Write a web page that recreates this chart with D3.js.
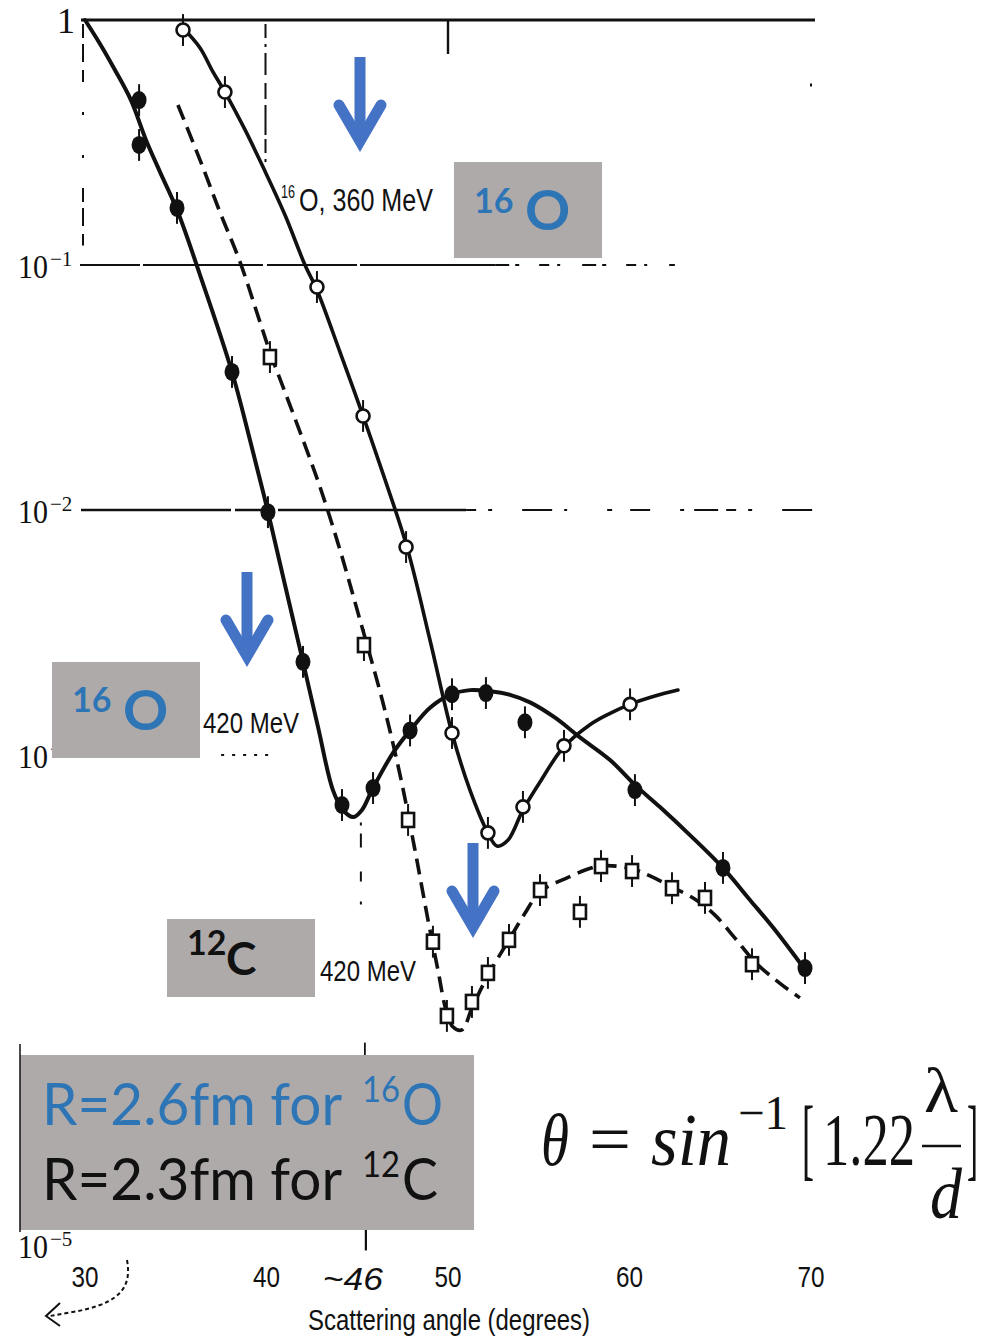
<!DOCTYPE html>
<html>
<head>
<meta charset="utf-8">
<script src="https://cdn.jsdelivr.net/npm/d3@7"></script>
<style>
  html, body { margin: 0; padding: 0; background: #fff; }
  svg { display: block; }
</style>
</head>
<body>
<svg id="chart" width="982" height="1337"></svg>
<script>
// ---- axis ticks ----
const angleTicks = [30, 40, 50, 60, 70];
const markAngle = 45.2;
const markLabel = "~46";
const decadeValues = [1, 1e-1, 1e-2, 1e-3, 1e-5];
const decadeExponents = ["", "−1", "−2", "−3", "−5"];

// ---- 16O, 420 MeV (filled circles, solid curve) ----
const o16_420_angle = [32.98, 32.98, 35.07, 38.10, 40.08, 42.01, 44.16, 45.87, 47.91, 50.22, 52.09, 54.24, 60.30, 65.15, 69.67];
const o16_420_value = [0.471, 0.309, 0.171, 0.0366, 0.0098, 0.0024, 6.25e-4, 7.33e-4, 1.26e-3, 1.77e-3, 1.79e-3, 1.36e-3, 7.19e-4, 3.46e-4, 1.35e-4];
const o16_420_fitAngle = [30.00, 30.83, 31.65, 32.53, 33.36, 34.13, 35.07, 36.34, 38.10, 39.09, 40.08, 41.02, 42.01, 42.84, 43.66, 44.21, 44.77, 45.26, 45.81, 46.97, 48.02, 49.01, 50.11, 51.21, 52.31, 53.42, 54.52, 55.90, 57.27, 58.93, 60.30, 61.68, 63.33, 65.15, 66.64, 68.02, 69.67];
const o16_420_fitValue = [1.0, 0.798, 0.625, 0.471, 0.324, 0.240, 0.168, 0.0910, 0.0366, 0.0193, 0.00982, 0.00494, 0.00240, 0.00130, 7.19e-4, 5.97e-4, 5.58e-4, 5.97e-4, 7.19e-4, 1.02e-3, 1.29e-3, 1.56e-3, 1.76e-3, 1.84e-3, 1.82e-3, 1.76e-3, 1.64e-3, 1.42e-3, 1.18e-3, 9.54e-4, 7.55e-4, 6.13e-4, 4.71e-4, 3.46e-4, 2.56e-4, 1.93e-4, 1.33e-4];

// ---- 16O, 360 MeV (open circles, solid curve) ----
const o16_360_angle = [35.40, 37.71, 42.78, 45.32, 47.69, 50.22, 52.20, 54.13, 56.39, 60.03];
const o16_360_value = [0.910, 0.508, 0.0813, 0.0242, 0.00706, 0.00123, 4.81e-4, 6.14e-4, 1.09e-3, 1.61e-3];
const o16_360_fitAngle = [35.40, 36.34, 37.05, 37.71, 38.82, 39.81, 41.02, 42.12, 42.78, 44.05, 45.32, 46.53, 47.74, 49.01, 50.22, 51.21, 52.20, 52.70, 53.31, 54.13, 55.07, 56.34, 57.82, 58.93, 60.03, 61.40, 62.67];
const o16_360_fitValue = [0.927, 0.769, 0.614, 0.508, 0.356, 0.251, 0.160, 0.100, 0.0791, 0.0441, 0.0242, 0.0133, 0.00706, 0.00294, 0.00123, 7.19e-4, 4.81e-4, 4.25e-4, 4.50e-4, 5.97e-4, 7.76e-4, 1.07e-3, 1.33e-3, 1.48e-3, 1.61e-3, 1.74e-3, 1.84e-3];

// ---- 12C, 420 MeV (open squares, dashed curve) ----
const c12_420_angle = [40.19, 45.37, 47.80, 49.17, 49.94, 51.32, 52.20, 53.36, 55.07, 57.27, 58.43, 60.14, 62.34, 64.16, 66.75];
const c12_420_value = [0.0421, 0.00281, 5.43e-4, 1.73e-4, 8.61e-5, 9.82e-5, 1.29e-4, 1.76e-4, 2.81e-4, 2.29e-4, 3.52e-4, 3.36e-4, 2.86e-4, 2.61e-4, 1.40e-4];
const c12_420_fitAngle = [35.12, 36.34, 37.44, 38.54, 39.64, 40.19, 40.91, 41.85, 42.95, 44.05, 45.15, 46.42, 47.36, 48.18, 48.90, 49.45, 49.89, 50.28, 50.77, 51.32, 52.20, 53.36, 54.24, 55.07, 56.56, 58.37, 60.14, 61.13, 62.34, 63.61, 64.71, 65.81, 66.91, 68.29, 69.39];
const c12_420_fitValue = [0.450, 0.268, 0.164, 0.103, 0.0585, 0.0441, 0.0318, 0.0208, 0.0124, 0.00687, 0.00356, 0.00163, 8.28e-4, 4.09e-4, 2.12e-4, 1.32e-4, 9.10e-5, 7.76e-5, 7.55e-5, 9.27e-5, 1.26e-4, 1.76e-4, 2.26e-4, 2.76e-4, 3.15e-4, 3.52e-4, 3.43e-4, 3.21e-4, 2.89e-4, 2.58e-4, 2.22e-4, 1.79e-4, 1.43e-4, 1.17e-4, 1.02e-4];

// ---- scales ----
const svg = d3.select("#chart");
const x = d3.scaleLinear().domain([30, 70]).range([85, 811]);
const y = d3.scaleLog().domain([1e-5, 1]).range([1245, 20]);

const ink = "#111";
const scanFont = "'Liberation Sans Narrow', 'Liberation Sans', Arial, sans-serif";
const serif = "'Liberation Serif', 'DejaVu Serif', serif";
const office = "Lato, 'Open Sans', 'Noto Sans', sans-serif";

const zip = (a, b) => a.map((v, i) => [v, b[i]]);

// ---- frame / reference lines of the original plot ----
const frame = svg.append("g").attr("stroke", ink).attr("fill", "none");
// top line at unity
frame.append("line").attr("x1", x(30) - 4).attr("x2", x(70) + 4)
  .attr("y1", y(1)).attr("y2", y(1)).attr("stroke-width", 3.2);
// 10^-1 line
frame.append("line").attr("x1", x(30) - 5).attr("x2", x(52.6))
  .attr("y1", y(1e-1)).attr("y2", y(1e-1)).attr("stroke-width", 2.2)
  .attr("stroke-dasharray", "60 3 120 4 90 3 200 5");
frame.append("line").attr("x1", x(52.6)).attr("x2", x(62.5))
  .attr("y1", y(1e-1)).attr("y2", y(1e-1)).attr("stroke-width", 2)
  .attr("stroke-dasharray", "14 6 4 20 10 8 3 22");
// 10^-2 line
frame.append("line").attr("x1", x(30) - 4).attr("x2", x(51))
  .attr("y1", y(1e-2)).attr("y2", y(1e-2)).attr("stroke-width", 2.4)
  .attr("stroke-dasharray", "150 4 40 3 200 6");
frame.append("line").attr("x1", x(51)).attr("x2", x(70) + 4)
  .attr("y1", y(1e-2)).attr("y2", y(1e-2)).attr("stroke-width", 2)
  .attr("stroke-dasharray", "10 12 4 30 30 12 3 40 5 18 20 30 4 10 24 8");
// 10^-3 remnants
frame.append("line").attr("x1", x(37.5)).attr("x2", x(40.1))
  .attr("y1", y(1e-3)).attr("y2", y(1e-3)).attr("stroke-width", 2)
  .attr("stroke-dasharray", "3 8");
// vertical dashed guides
frame.append("line").attr("x1", x(30) - 2).attr("x2", x(30) - 2)
  .attr("y1", y(1) + 4).attr("y2", y(0.12)).attr("stroke-width", 2)
  .attr("stroke-dasharray", "14 6 18 8 12 30 3 40 3 30");
frame.append("line").attr("x1", x(40) - 1).attr("x2", x(40) - 1)
  .attr("y1", y(1) + 4).attr("y2", y(0.26)).attr("stroke-width", 2)
  .attr("stroke-dasharray", "14 6 3 6 22 8 16 6 30 4");
frame.append("line").attr("x1", x(50)).attr("x2", x(50))
  .attr("y1", y(1)).attr("y2", y(0.7)).attr("stroke-width", 2.4)
  .attr("stroke-dasharray", "34 10 3 36 3 100");
frame.append("line").attr("x1", x(70)).attr("x2", x(70))
  .attr("y1", y(0.55)).attr("y2", y(0.35)).attr("stroke-width", 2)
  .attr("stroke-dasharray", "3 48 3 100");
// minimum marker near 46 degrees
frame.append("line").attr("x1", x(markAngle)).attr("x2", x(markAngle))
  .attr("y1", y(5.3e-4)).attr("y2", y(2.4e-4)).attr("stroke-width", 2)
  .attr("stroke-dasharray", "3 8 14 24 10 20");
frame.append("line").attr("x1", x(markAngle) + 4).attr("x2", x(markAngle) + 4)
  .attr("y1", y(6.7e-5)).attr("y2", y(5.1e-5)).attr("stroke-width", 1.8);
frame.append("line").attr("x1", x(markAngle) + 5).attr("x2", x(markAngle) + 5)
  .attr("y1", y(1.2e-5)).attr("y2", y(0.95e-5)).attr("stroke-width", 2.2);

// ---- curves ----
const line = d3.line()
  .x(d => x(d[0])).y(d => y(d[1]))
  .curve(d3.curveCatmullRom.alpha(0.5));

svg.append("path").datum(zip(o16_420_fitAngle, o16_420_fitValue))
  .attr("d", line).attr("fill", "none").attr("stroke", ink)
  .attr("stroke-width", 4).attr("stroke-linecap", "round");
svg.append("path").datum(zip(o16_360_fitAngle, o16_360_fitValue))
  .attr("d", line).attr("fill", "none").attr("stroke", ink)
  .attr("stroke-width", 3.6).attr("stroke-linecap", "round");
svg.append("path").datum(zip(c12_420_fitAngle, c12_420_fitValue))
  .attr("d", line).attr("fill", "none").attr("stroke", ink)
  .attr("stroke-width", 3.6).attr("stroke-dasharray", "16 8");

// ---- error bars ----
const errSpan = 0.065; // decades above and below each point
function errorBars(angles, values) {
  svg.append("g").attr("stroke", ink).attr("stroke-width", 2)
    .selectAll("line").data(zip(angles, values)).join("line")
    .attr("x1", d => x(d[0])).attr("x2", d => x(d[0]))
    .attr("y1", d => y(d[1] * Math.pow(10, errSpan)))
    .attr("y2", d => y(d[1] / Math.pow(10, errSpan)));
}
errorBars(o16_420_angle, o16_420_value);
errorBars(o16_360_angle, o16_360_value);
errorBars(c12_420_angle, c12_420_value);

// ---- markers ----
svg.append("g").selectAll("ellipse").data(zip(o16_420_angle, o16_420_value)).join("ellipse")
  .attr("cx", d => x(d[0])).attr("cy", d => y(d[1]))
  .attr("rx", 7.5).attr("ry", 9).attr("fill", ink);

svg.append("g").selectAll("circle").data(zip(o16_360_angle, o16_360_value)).join("circle")
  .attr("cx", d => x(d[0])).attr("cy", d => y(d[1]))
  .attr("r", 6.5).attr("fill", "#fff").attr("stroke", ink).attr("stroke-width", 2.6);

svg.append("g").selectAll("rect").data(zip(c12_420_angle, c12_420_value)).join("rect")
  .attr("x", d => x(d[0]) - 6).attr("y", d => y(d[1]) - 7)
  .attr("width", 12).attr("height", 14)
  .attr("fill", "#fff").attr("stroke", ink).attr("stroke-width", 2.6);

// ---- series labels from the original plot ----
const lab = svg.append("g").attr("fill", ink).attr("font-family", scanFont);
lab.append("text").attr("x", 281).attr("y", 198).attr("font-size", 18)
  .attr("textLength", 14).attr("lengthAdjust", "spacingAndGlyphs").text("16");
lab.append("text").attr("x", 299).attr("y", 211).attr("font-size", 31)
  .attr("textLength", 134).attr("lengthAdjust", "spacingAndGlyphs").text("O, 360 MeV");
lab.append("text").attr("x", 203).attr("y", 733).attr("font-size", 30)
  .attr("textLength", 96).attr("lengthAdjust", "spacingAndGlyphs").text("420 MeV");
lab.append("text").attr("x", 320).attr("y", 981).attr("font-size", 30)
  .attr("textLength", 96).attr("lengthAdjust", "spacingAndGlyphs").text("420 MeV");

// ---- y-axis decade labels ----
const ylab = svg.append("g").attr("fill", ink).attr("font-family", serif);
decadeValues.forEach((v, i) => {
  if (decadeExponents[i] === "") {
    ylab.append("text").attr("x", 75).attr("y", y(v) + 13)
      .attr("text-anchor", "end").attr("font-size", 36).text("1");
  } else {
    ylab.append("text").attr("x", 18).attr("y", y(v) + 13).attr("font-size", 34)
      .attr("textLength", 30).attr("lengthAdjust", "spacingAndGlyphs").text("10");
    ylab.append("text").attr("x", 50).attr("y", y(v) + 1).attr("font-size", 21)
      .text(decadeExponents[i]);
  }
});

// ---- x-axis tick labels and title ----
const xlab = svg.append("g").attr("fill", ink).attr("font-family", scanFont)
  .attr("text-anchor", "middle");
angleTicks.forEach(a => {
  xlab.append("text").attr("x", x(a)).attr("y", 1287).attr("font-size", 30)
    .attr("textLength", 27).attr("lengthAdjust", "spacingAndGlyphs").text(a);
});
xlab.append("text").attr("x", x(markAngle) - 8).attr("y", 1290).attr("font-size", 32)
  .attr("font-style", "italic").attr("textLength", 60).attr("lengthAdjust", "spacingAndGlyphs")
  .text(markLabel);
xlab.append("text").attr("x", 449).attr("y", 1330).attr("font-size", 29)
  .attr("textLength", 282).attr("lengthAdjust", "spacingAndGlyphs")
  .text("Scattering angle  (degrees)");

// hand-drawn pointer below the 30 degree label
const hand = svg.append("g").attr("fill", "none").attr("stroke", ink).attr("stroke-width", 2);
hand.append("path").attr("d", "M127,1260 C131,1282 124,1296 100,1305 C84,1311 66,1313 50,1316")
  .attr("stroke-dasharray", "4 3");
hand.append("path").attr("d", "M60,1303 L46,1316 L60,1326");

// ---- overlay annotations ----
const grey = "#AEAAAA";
const blue = "#2E75B6";
const arrowBlue = "#4472C4";
const over = svg.append("g");

function downArrow(cx, top, tip) {
  over.append("rect").attr("x", cx - 5.5).attr("y", top).attr("width", 11).attr("height", tip - top - 8)
    .attr("fill", arrowBlue);
  over.append("path")
    .attr("d", `M${cx - 21},${tip - 42} L${cx},${tip - 6} L${cx + 21},${tip - 42}`)
    .attr("fill", "none").attr("stroke", arrowBlue).attr("stroke-width", 11)
    .attr("stroke-linecap", "round").attr("stroke-linejoin", "miter");
}
downArrow(360, 57, 147);
downArrow(247, 572, 662);
downArrow(473, 843, 933);

function isotopeBox(bx, by, w, h, mass, sym, color, massPos, symPos, symSize) {
  over.append("rect").attr("x", bx).attr("y", by).attr("width", w).attr("height", h).attr("fill", grey);
  over.append("text").attr("x", massPos[0]).attr("y", massPos[1]).attr("font-family", office)
    .attr("font-weight", 700).attr("font-size", 34).attr("fill", color).text(mass);
  over.append("text").attr("x", symPos[0]).attr("y", symPos[1]).attr("font-family", office)
    .attr("font-weight", 700).attr("font-size", symSize).attr("fill", color).text(sym);
}
isotopeBox(454, 162, 148, 96, "16", "O", blue, [474, 213], [525, 230], 56);
isotopeBox(52, 662, 148, 96, "16", "O", blue, [72, 712], [123, 730], 56);
isotopeBox(167, 919, 148, 78, "12", "C", ink, [187, 955], [226, 975], 46);

// radius summary box
over.append("rect").attr("x", 20).attr("y", 1055).attr("width", 454).attr("height", 175).attr("fill", grey);
over.append("line").attr("x1", 20).attr("x2", 20).attr("y1", 1044).attr("y2", 1232)
  .attr("stroke", ink).attr("stroke-width", 1.5);
function radiusLine(yBase, color, lead, mass, sym, widths) {
  over.append("text").attr("x", 42).attr("y", yBase).attr("font-family", office)
    .attr("font-size", 58).attr("fill", color)
    .attr("textLength", widths[0]).attr("lengthAdjust", "spacingAndGlyphs").text(lead);
  over.append("text").attr("x", 362).attr("y", yBase - 23).attr("font-family", office)
    .attr("font-size", 36).attr("fill", color)
    .attr("textLength", 38).attr("lengthAdjust", "spacingAndGlyphs").text(mass);
  over.append("text").attr("x", 402).attr("y", yBase).attr("font-family", office)
    .attr("font-size", 58).attr("fill", color)
    .attr("textLength", widths[1]).attr("lengthAdjust", "spacingAndGlyphs").text(sym);
}
radiusLine(1125, blue, "R=2.6fm for", "16", "O", [300, 41]);
radiusLine(1200, ink, "R=2.3fm for", "12", "C", [300, 36]);

// diffraction-minimum formula: each glyph group is squeezed horizontally to its slot
const eq = svg.append("g").attr("fill", ink).attr("font-family", serif);
function eqText(str, left, base, size, width, italic) {
  const t = eq.append("text").attr("x", 0).attr("y", 0).attr("font-size", size)
    .attr("font-style", italic ? "italic" : "normal").text(str);
  const natural = t.node().getComputedTextLength() || width;
  t.attr("transform", `translate(${left},${base}) scale(${width / natural},1)`);
}
eqText("θ", 541, 1165, 74, 28, true);
eqText("=", 589, 1163, 70, 42, false);
eqText("sin", 651, 1165, 74, 80, true);
eqText("−1", 738, 1129, 48, 50, false);
eqText("[", 802, 1169, 90, 12, false);
eqText("1.22", 823, 1165, 74, 92, false);
eqText("λ", 924, 1112, 64, 34, false);
eq.append("line").attr("x1", 922).attr("x2", 961).attr("y1", 1146).attr("y2", 1146)
  .attr("stroke", ink).attr("stroke-width", 2.4);
eqText("d", 930, 1218, 72, 32, true);
eqText("]", 967, 1169, 90, 11, false);
</script>
</body>
</html>
